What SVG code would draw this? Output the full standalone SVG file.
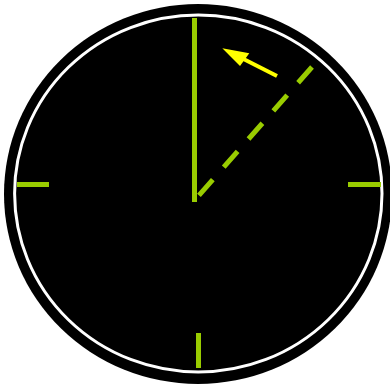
<svg xmlns="http://www.w3.org/2000/svg" width="390" height="387" viewBox="0 0 390 387">
  <style>
    .tick { stroke: #99cc00; stroke-width: 5; fill: none; }
    .hand { stroke: #99cc00; stroke-width: 5; fill: none; }
    .dash { stroke-dasharray: 21 16.5; }
    .arrow { stroke: #ffff00; stroke-width: 4; fill: none; }
  </style>
  <rect width="390" height="387" fill="#ffffff"/>
  <g id="dial">
    <ellipse cx="198" cy="194" rx="194" ry="190" fill="#000000"/>
    <ellipse cx="198.3" cy="193.5" rx="183.7" ry="178.5" fill="none" stroke="#ffffff" stroke-width="3"/>
  </g>
  <g id="ticks">
    <line class="tick" x1="17" y1="184.5" x2="49" y2="184.5"/>
    <line class="tick" x1="348" y1="184.5" x2="381" y2="184.5"/>
    <line class="tick" x1="198.5" y1="333" x2="198.5" y2="368"/>
  </g>
  <g id="hands">
    <line class="hand" x1="194.5" y1="18" x2="194.5" y2="202"/>
    <line class="hand dash" x1="312" y1="67" x2="197" y2="197.5"/>
  </g>
  <g id="connectors">
    <line class="arrow" x1="277" y1="76" x2="243" y2="58.7"/>
    <polygon points="222.3,48.3 249.3,53.3 240,66" fill="#ffff00"/>
  </g>
</svg>
